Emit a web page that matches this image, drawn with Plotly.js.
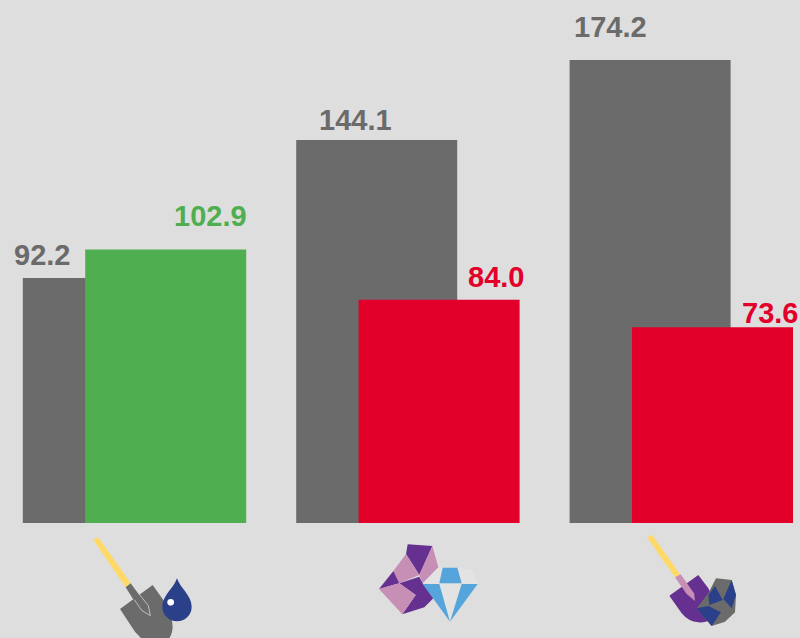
<!DOCTYPE html>
<html>
<head>
<meta charset="utf-8">
<script src="https://cdn.plot.ly/plotly-3.0.1.min.js"></script>
<style>html,body{margin:0;padding:0;background:#dedede;overflow:hidden}#c{width:800px;height:638px}</style>
</head>
<body>
<div id="c"></div>
<script>
const categories = ['Shovel and water', 'Gems and diamond', 'Shovel and ore'];
const greyValues = [92.2, 144.1, 174.2];
const colouredValues = [102.9, 84.0, 73.6];
const colouredBars = ['#4faf50', '#e2002b', '#e2002b'];

const GREY = '#6b6b6b';
const W = 800, H = 638;
const pitch = 273.4, groupLeft = 134.5, baseline = 523, pxPerUnit = 2.658;
const barW = 161 / pitch, off = 31.2 / pitch;

// Label placement in pixels: right edge relative to group centre, lift above bar top
const greyLabel = {dx: [-62.5, -13.5, -32], up: [23, 20, 33]};
const colourLabel = {dx: [114, 118.5, 118.5], up: [33, 23, 14]};

function svgUri(vw, vh, body) {
  const s = `<svg xmlns="http://www.w3.org/2000/svg" width="${vw}" height="${vh}" viewBox="0 0 ${vw} ${vh}">${body}</svg>`;
  return 'data:image/svg+xml;charset=utf-8,' + encodeURIComponent(s);
}
const poly = (pts, fill) => `<polygon points="${pts}" fill="${fill}"/>`;
const YEL = '#ffd966', NAVY = '#2a4088', PUR = '#653090', PINK = '#c78fb5', BLUE = '#55a5dc', LIGHT = '#e3e3e3';

const icon1 = svgUri(390, 339,
  poly('40,45 55,37 152,175 137,187', YEL) +
  `<path d="M120,252 L218,180 L250,225 Q285,285 276,320 Q272,339 262,345 L190,345 Q165,325 155,305 Z" fill="${GREY}"/>` +
  poly('137,187 152,175 184,218 165,232', GREY) +
  `<polyline points="163,224 185,256 211,272 205,242 178,208" fill="none" stroke="#cfcfcf" stroke-width="2.5"/>` +
  `<path d="M291,160 C300,190 335,210 335,245 A44,44 0 1 1 247,245 C247,210 282,190 291,160 Z" fill="${NAVY}"/>` +
  `<circle cx="272" cy="232" r="10" fill="#fff"/>`);

const icon2 = svgUri(360, 300,
  poly('113,43 187,48 148,135 108,72', PUR) +
  poly('187,48 205,112 158,160 148,135', PINK) +
  poly('108,72 148,135 88,160 70,123', PINK) +
  poly('70,123 88,160 27,177', PUR) +
  poly('88,160 148,140 158,160 190,205 163,232 97,253 137,195', PUR) +
  poly('27,177 88,160 137,195 97,253', PINK) +
  poly('205,113 218,113 208,161 158,161', LIGHT) +
  poly('262,113 305,118 323,161 275,161', LIGHT) +
  poly('208,161 275,161 240,275', LIGHT) +
  poly('218,113 262,113 275,160 208,160', BLUE) +
  poly('158,162 208,162 240,275', BLUE) +
  poly('275,162 323,162 240,275', BLUE));

const icon3 = svgUri(330, 330,
  poly('22,38 36,29 120,148 105,157', YEL) +
  `<path d="M88,212 L175,150 L205,190 Q232,245 225,272 Q205,295 175,292 Q145,290 125,265 Z" fill="${PUR}"/>` +
  poly('105,157 122,148 162,205 165,228 140,207', PINK) +
  poly('228,160 275,165 288,210 285,262 255,290 215,303 170,250 205,205', GREY) +
  poly('205,210 225,183 248,225 208,240', NAVY) +
  poly('275,165 288,210 275,250 250,222', NAVY) +
  poly('170,250 205,243 243,262 215,303', NAVY));

const image = (src, x, y, w, h) => ({
  source: src, xref: 'paper', yref: 'paper', x: x / W, y: 1 - y / H,
  sizex: w / W, sizey: h / H, xanchor: 'left', yanchor: 'top', sizing: 'stretch', layer: 'above'
});

function labels(values, cfg, colors) {
  return values.map((v, i) => ({
    x: categories[i], y: v, xref: 'x', yref: 'y',
    text: '<b>' + v.toFixed(1) + '</b>',
    showarrow: false, xanchor: 'right', yanchor: 'middle',
    xshift: cfg.dx[i], yshift: cfg.up[i],
    font: {family: '"Liberation Sans", Arial, sans-serif', size: 29, color: colors[i]}
  }));
}

const grey = {
  type: 'bar', x: categories, y: greyValues, width: barW, offset: -barW / 2 - off,
  marker: {color: GREY}, hoverinfo: 'skip'
};
const coloured = {
  type: 'bar', x: categories, y: colouredValues, width: barW, offset: -barW / 2 + off,
  marker: {color: colouredBars}, hoverinfo: 'skip'
};

const layout = {
  width: W, height: H, margin: {l: 0, r: 0, t: 0, b: 0, pad: 0},
  paper_bgcolor: '#dedede', plot_bgcolor: '#dedede',
  barmode: 'overlay', showlegend: false,
  xaxis: {visible: false, type: 'category', categoryarray: categories,
          range: [-groupLeft / pitch, (W - groupLeft) / pitch]},
  yaxis: {visible: false, range: [-(H - baseline) / pxPerUnit, baseline / pxPerUnit]},
  annotations: labels(greyValues, greyLabel, [GREY, GREY, GREY]).concat(labels(colouredValues, colourLabel, colouredBars)),
  images: [image(icon1, 80, 525, 130, 113), image(icon2, 370, 530, 120, 100), image(icon3, 640, 525, 110, 110)]
};
Plotly.newPlot('c', [grey, coloured], layout, {displayModeBar: false, staticPlot: true});
</script>
</body>
</html>
